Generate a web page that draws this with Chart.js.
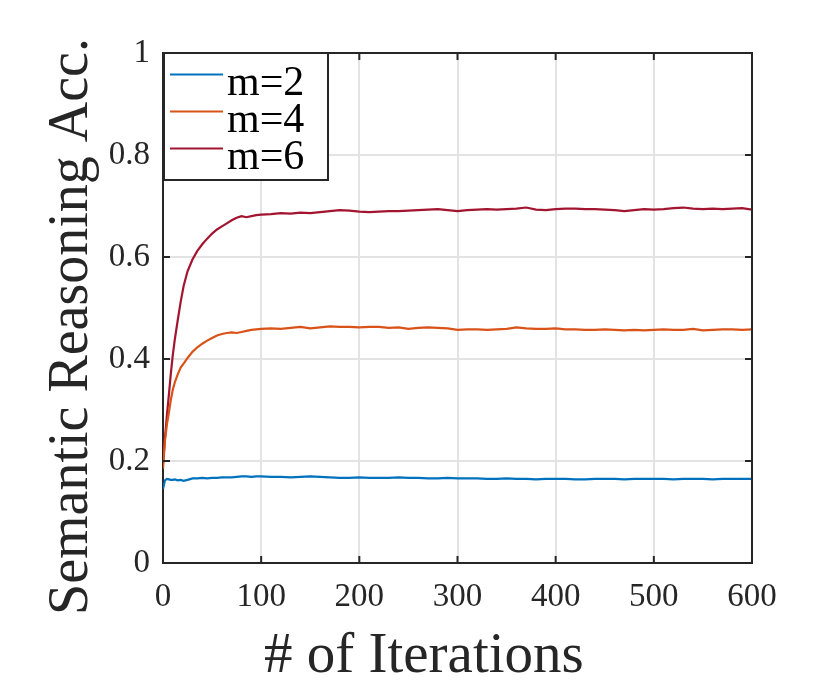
<!DOCTYPE html>
<html>
<head>
<meta charset="utf-8">
<script src="https://cdn.jsdelivr.net/npm/chart.js@4/dist/chart.umd.min.js"></script>
<style>
  body { margin: 0; background: #fff; }
  canvas { display: block; }
</style>
</head>
<body>
<canvas id="acc-chart" width="830" height="695"></canvas>
<script>
const iterations = [0, 2, 4, 6, 8, 10, 12, 15, 18, 21, 25, 30, 35, 40, 45, 50, 55, 60, 65, 70, 75, 80, 85, 90, 95, 100,
  110, 120, 130, 140, 150, 160, 170, 180, 190, 200, 210, 220, 230, 240, 250, 260, 270, 280, 290, 300,
  310, 320, 330, 340, 350, 360, 370, 380, 390, 400, 410, 420, 430, 440, 450, 460, 470, 480, 490, 500,
  510, 520, 530, 540, 550, 560, 570, 580, 590, 600];

const accM2 = [0.145, 0.162, 0.165, 0.164, 0.163, 0.163, 0.164, 0.162, 0.163, 0.161, 0.163, 0.166, 0.166, 0.167, 0.166, 0.167, 0.167, 0.168, 0.168, 0.168, 0.169, 0.170, 0.170, 0.169, 0.170, 0.170,
  0.169, 0.169, 0.168, 0.169, 0.170, 0.169, 0.168, 0.167, 0.167, 0.168, 0.167, 0.167, 0.167, 0.168, 0.167, 0.167, 0.166, 0.166, 0.167, 0.166,
  0.166, 0.166, 0.165, 0.165, 0.166, 0.165, 0.165, 0.164, 0.165, 0.165, 0.165, 0.164, 0.164, 0.165, 0.165, 0.165, 0.164, 0.165, 0.165, 0.165,
  0.165, 0.164, 0.165, 0.165, 0.165, 0.164, 0.165, 0.165, 0.165, 0.165];

const accM4 = [0.185, 0.240, 0.272, 0.295, 0.320, 0.340, 0.354, 0.370, 0.383, 0.391, 0.402, 0.414, 0.423, 0.430, 0.436, 0.441, 0.446, 0.449, 0.451, 0.452, 0.451, 0.453, 0.455, 0.457, 0.458, 0.459,
  0.460, 0.459, 0.461, 0.463, 0.460, 0.462, 0.464, 0.463, 0.463, 0.462, 0.463, 0.463, 0.461, 0.462, 0.459, 0.461, 0.462, 0.461, 0.460, 0.457,
  0.458, 0.458, 0.457, 0.458, 0.459, 0.462, 0.460, 0.459, 0.459, 0.460, 0.458, 0.458, 0.457, 0.457, 0.458, 0.457, 0.456, 0.457, 0.456, 0.457,
  0.458, 0.457, 0.457, 0.459, 0.456, 0.457, 0.458, 0.458, 0.457, 0.458];

const accM6 = [0.195, 0.245, 0.290, 0.330, 0.372, 0.408, 0.438, 0.476, 0.512, 0.543, 0.572, 0.595, 0.612, 0.625, 0.636, 0.646, 0.654, 0.660, 0.666, 0.672, 0.677, 0.680, 0.678, 0.680, 0.682, 0.683,
  0.684, 0.686, 0.685, 0.687, 0.686, 0.688, 0.690, 0.692, 0.691, 0.689, 0.688, 0.689, 0.690, 0.690, 0.691, 0.692, 0.693, 0.694, 0.692, 0.690,
  0.692, 0.693, 0.694, 0.693, 0.694, 0.695, 0.697, 0.693, 0.692, 0.694, 0.695, 0.695, 0.694, 0.694, 0.693, 0.692, 0.690, 0.692, 0.694, 0.693,
  0.694, 0.696, 0.697, 0.695, 0.694, 0.695, 0.694, 0.695, 0.696, 0.693];

const seriesLabels = ["m=2", "m=4", "m=6"];
const xTickValues = [0, 100, 200, 300, 400, 500, 600];
const yTickValues = [0, 0.2, 0.4, 0.6, 0.8, 1];

const AXIS = "#262626";
const FONT = "'Liberation Serif', 'Times New Roman', serif";

function toPoints(vals) {
  return vals.map((v, i) => ({ x: iterations[i], y: v }));
}

// box, inner ticks, axis titles and legend, MATLAB style
const matlabBox = {
  id: 'matlabBox',
  afterDatasetsDraw(chart) {
    const ctx = chart.ctx;
    const a = chart.chartArea;
    const xs = chart.scales.x, ys = chart.scales.y;
    ctx.save();
    ctx.strokeStyle = AXIS;
    ctx.lineWidth = 2;
    ctx.beginPath();
    // top + right edge
    ctx.moveTo(a.left, a.top); ctx.lineTo(a.right, a.top); ctx.lineTo(a.right, a.bottom);
    // inner ticks
    xTickValues.forEach(v => {
      const px = xs.getPixelForValue(v);
      ctx.moveTo(px, a.bottom); ctx.lineTo(px, a.bottom - 7);
      ctx.moveTo(px, a.top); ctx.lineTo(px, a.top + 7);
    });
    yTickValues.forEach(v => {
      const py = ys.getPixelForValue(v);
      ctx.moveTo(a.left, py); ctx.lineTo(a.left + 7, py);
      ctx.moveTo(a.right, py); ctx.lineTo(a.right - 7, py);
    });
    ctx.stroke();

    // legend
    const lx = a.left + 1, ly = a.top;
    ctx.fillStyle = "#fff";
    ctx.fillRect(lx, ly, 164, 127);
    ctx.strokeRect(lx, ly, 164, 127);
    ctx.font = "42px " + FONT;
    ctx.textBaseline = "alphabetic";
    ctx.textAlign = "left";
    chart.data.datasets.forEach((ds, i) => {
      const yLine = ly + 21.5 + i * 37;
      ctx.strokeStyle = ds.borderColor;
      ctx.lineWidth = 2;
      ctx.beginPath();
      ctx.moveTo(lx + 6, yLine); ctx.lineTo(lx + 59, yLine);
      ctx.stroke();
      ctx.fillStyle = "#000";
      ctx.fillText(ds.label, lx + 63, yLine + 20.5);
    });

    // axis titles
    ctx.fillStyle = AXIS;
    ctx.font = "57px " + FONT;
    ctx.fillText("# of Iterations", 264, 672);
    ctx.translate(87, 615);
    ctx.rotate(-Math.PI / 2);
    ctx.font = "56px " + FONT;
    ctx.fillText("Semantic Reasoning Acc.", 0, 0);
    ctx.restore();
  }
};

var ctx = document.getElementById("acc-chart");
var accChart = new Chart(ctx, {
  type: 'line',
  data: {
    datasets: [{
      label: seriesLabels[0],
      data: toPoints(accM2),
      borderColor: "#0072BD",
    }, {
      label: seriesLabels[1],
      data: toPoints(accM4),
      borderColor: "#D95319",
    }, {
      label: seriesLabels[2],
      data: toPoints(accM6),
      borderColor: "#A2142F",
    }]
  },
  options: {
    responsive: false,
    animation: false,
    devicePixelRatio: 1,
    layout: { padding: { top: 53, right: 78, left: 0, bottom: 0 } },
    elements: {
      line: { borderWidth: 2.2, tension: 0 },
      point: { radius: 0 }
    },
    plugins: {
      legend: { display: false },
      tooltip: { enabled: false }
    },
    scales: {
      x: {
        type: 'linear',
        min: 0,
        max: 600,
        afterFit: (s) => { s.height = 132; },
        afterBuildTicks: (s) => { s.ticks = xTickValues.map(v => ({ value: v })); },
        ticks: { color: AXIS, padding: 15, maxRotation: 0, font: { family: FONT, size: 33 } },
        grid: { color: "#e3e3e3", lineWidth: 2, drawTicks: false },
        border: { color: AXIS, width: 2 }
      },
      y: {
        min: 0,
        max: 1,
        afterFit: (s) => { s.width = 163; },
        afterBuildTicks: (s) => { s.ticks = yTickValues.map(v => ({ value: v })); },
        ticks: {
          color: AXIS, padding: 13, font: { family: FONT, size: 33 },
          callback: (v) => String(Math.round(v * 10) / 10)
        },
        grid: { color: "#e3e3e3", lineWidth: 2, drawTicks: false },
        border: { color: AXIS, width: 2 }
      }
    }
  },
  plugins: [matlabBox]
});
</script>
</body>
</html>
